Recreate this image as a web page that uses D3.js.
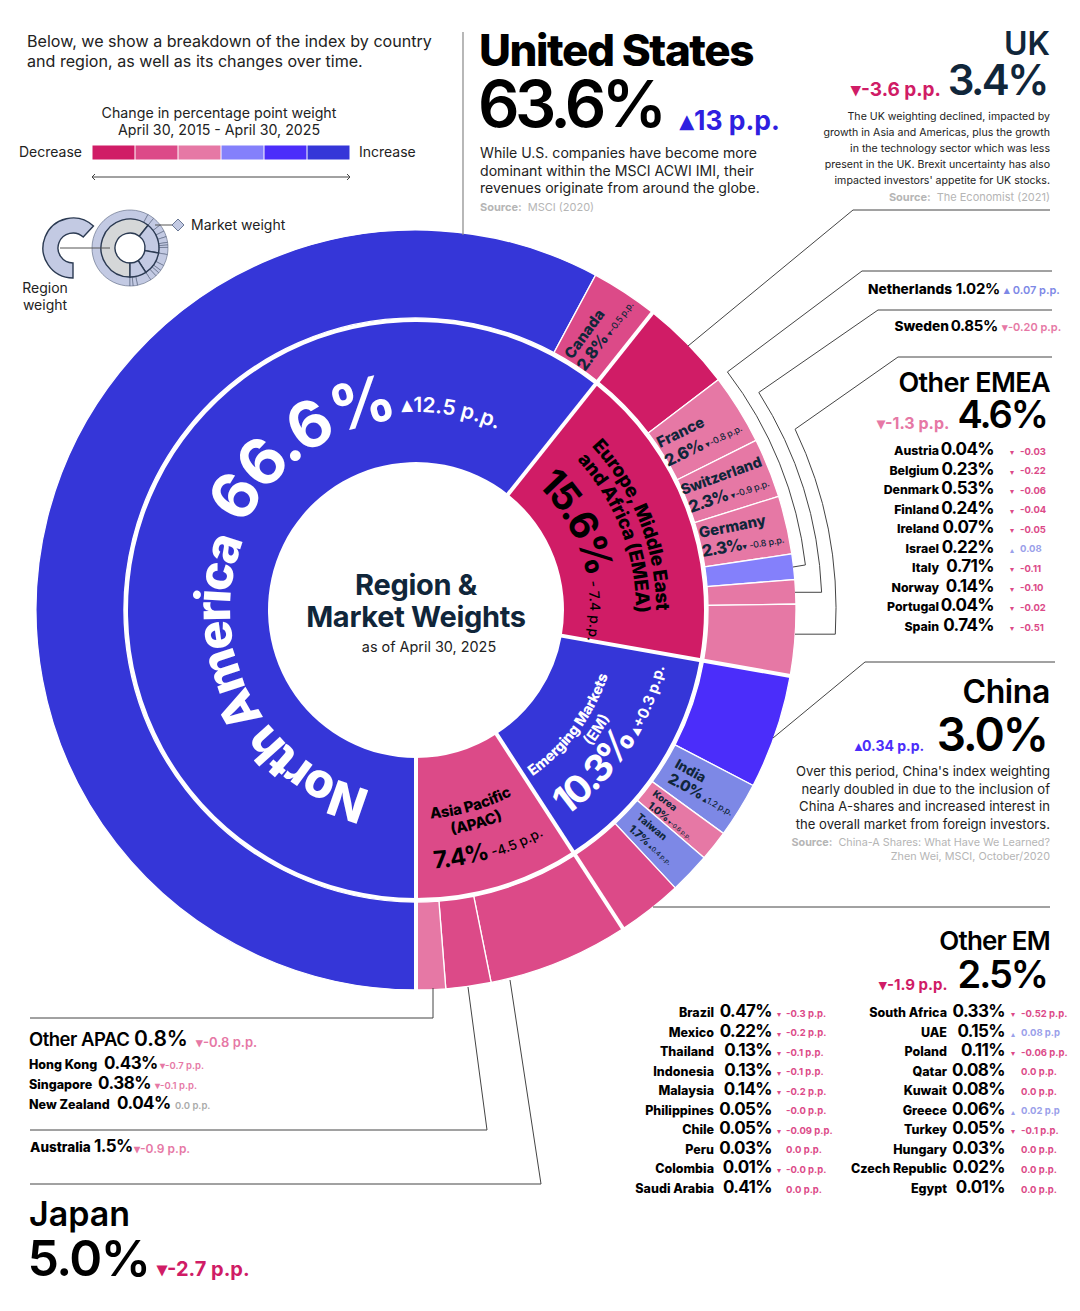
<!DOCTYPE html>
<html>
<head>
<meta charset="utf-8">
<title>Region and Market Weights</title>
<script src="https://d3js.org/d3.v7.min.js"></script>
<style>
  body { margin: 0; background: #fff; }
  text { font-family: 'Inter', 'Noto Sans', sans-serif; fill: #000; }
</style>
</head>
<body>
<svg id="chart" width="1080" height="1311"></svg>
<script>
// Ring sweeps are in degrees as drawn in the picture, they are not the printed weights
const regionNames = ["North America", "EMEA", "Emerging Markets", "Asia Pacific"];
const regionSweep = [218.5, 61.5, 47, 33];

const marketNames = ["United States", "Canada", "UK", "France", "Switzerland", "Germany", "Netherlands", "Sweden", "Other EMEA",
  "China", "India", "Korea", "Taiwan", "Other EM", "Japan", "Australia", "Other APAC"];
const marketSweep = [208.2, 10.3, 14.2, 10.8, 9.1, 8.9, 3.9, 3.7, 10.9, 17.5, 8.5, 4.7, 6.3, 10, 21.6, 6.9, 4.5];

const emeaNames = ["Austria", "Belgium", "Denmark", "Finland", "Ireland", "Israel", "Italy", "Norway", "Portugal", "Spain"];
const emeaWeights = ["0.04%", "0.23%", "0.53%", "0.24%", "0.07%", "0.22%", "0.71%", "0.14%", "0.04%", "0.74%"];
const emeaChanges = ["▾-0.03", "▾-0.22", "▾-0.06", "▾-0.04", "▾-0.05", "▴0.08", "▾-0.11", "▾-0.10", "▾-0.02", "▾-0.51"];

const emLeftNames = ["Brazil", "Mexico", "Thailand", "Indonesia", "Malaysia", "Philippines", "Chile", "Peru", "Colombia", "Saudi Arabia"];
const emLeftWeights = ["0.47%", "0.22%", "0.13%", "0.13%", "0.14%", "0.05%", "0.05%", "0.03%", "0.01%", "0.41%"];
const emLeftChanges = ["▾-0.3 p.p.", "▾-0.2 p.p.", "▾-0.1 p.p.", "▾-0.1 p.p.", "▾-0.2 p.p.", "-0.0 p.p.", "▾-0.09 p.p.", "0.0 p.p.", "▾-0.0 p.p.", "0.0 p.p."];

const emRightNames = ["South Africa", "UAE", "Poland", "Qatar", "Kuwait", "Greece", "Turkey", "Hungary", "Czech Republic", "Egypt"];
const emRightWeights = ["0.33%", "0.15%", "0.11%", "0.08%", "0.08%", "0.06%", "0.05%", "0.03%", "0.02%", "0.01%"];
const emRightChanges = ["▾-0.52 p.p.", "▴0.08 p.p", "▾-0.06 p.p.", "0.0 p.p.", "0.0 p.p.", "▴0.02 p.p", "▾-0.1 p.p.", "0.0 p.p.", "0.0 p.p.", "0.0 p.p."];

const apacNames = ["Hong Kong", "Singapore", "New Zealand"];
const apacWeights = ["0.43%", "0.38%", "0.04%"];
const apacChanges = ["▾-0.7 p.p.", "▾-0.1 p.p.", "0.0 p.p."];

const legendSteps = ["-3", "-2", "-1", "1", "2", "3"];

const DARK = "#d01c66", MID = "#dc4a88", LIGHT = "#e678a5", PERI = "#8480fb", VIVID = "#4b2dfa", BLUE = "#3536d8", PERI2 = "#7d88e6";
const NAVY = "#10263a", INK = "#222";

let cx = 416, cy = 610;
let svg = d3.select("#chart");
let defs = svg.append("defs");

let legendColor = d3.scaleOrdinal().domain(legendSteps).range([DARK, MID, LIGHT, PERI, VIVID, BLUE]);
let regionColor = d3.scaleOrdinal().domain(regionNames).range([BLUE, DARK, BLUE, MID]);
let marketColor = d3.scaleOrdinal().domain(marketNames)
    .range([BLUE, MID, DARK, LIGHT, LIGHT, LIGHT, PERI, LIGHT, LIGHT, VIVID, PERI2, LIGHT, PERI2, MID, MID, MID, LIGHT]);

let pie = d3.pie().sort(null).startAngle(Math.PI).endAngle(3 * Math.PI);
let ring = svg.append("g").attr("transform", `translate(${cx},${cy})`);

// Rings
let regionSlices = pie(regionSweep);
let marketSlices = pie(marketSweep);
let regionArc = d3.arc().innerRadius(148).outerRadius(288);
ring.selectAll("path.region").data(regionSlices).enter().append("path")
    .attr("class", "region")
    .attr("d", regionArc)
    .attr("fill", (d, i) => regionColor(regionNames[i]));

let marketArc = d3.arc().innerRadius(292).outerRadius(380);
ring.selectAll("path.market").data(marketSlices).enter().append("path")
    .attr("class", "market")
    .attr("d", marketArc)
    .attr("fill", (d, i) => marketColor(marketNames[i]))
    .attr("stroke", "#fff")
    .attr("stroke-width", 1.3);

// Thick white gaps between regions
ring.selectAll("line.gap").data(regionSlices).enter().append("line")
    .attr("x1", d => 146 * Math.sin(d.startAngle))
    .attr("y1", d => -146 * Math.cos(d.startAngle))
    .attr("x2", d => 383 * Math.sin(d.startAngle))
    .attr("y2", d => -383 * Math.cos(d.startAngle))
    .attr("stroke", "#fff")
    .attr("stroke-width", 4);

function pt(r, deg) {
    let a = deg * Math.PI / 180;
    return [cx + r * Math.sin(a), cy - r * Math.cos(a)];
}

function label(x, y, str, size, opts) {
    opts = opts || {};
    return svg.append("text")
        .attr("x", x).attr("y", y)
        .attr("font-size", size)
        .attr("font-weight", opts.weight || 400)
        .attr("text-anchor", opts.anchor || "start")
        .attr("letter-spacing", opts.spacing || null)
        .style("fill", opts.color || "#000")
        .text(str);
}

// Text following a circle around the centre. Degrees from north, from -> to
let pathId = 0;
function curved(r, from, to, parts, anchor) {
    let id = "arc" + (pathId++);
    let p0 = pt(r, from), p1 = pt(r, to);
    let sweep = to > from ? 1 : 0;
    let large = Math.abs(to - from) > 180 ? 1 : 0;
    defs.append("path").attr("id", id)
        .attr("d", `M${p0[0]},${p0[1]}A${r},${r} 0 ${large} ${sweep} ${p1[0]},${p1[1]}`);
    let t = svg.append("text");
    let tp = t.append("textPath").attr("href", "#" + id);
    if (anchor === "middle") tp.attr("startOffset", "50%").attr("text-anchor", "middle");
    parts.forEach(d => {
        tp.append("tspan")
          .attr("font-size", d.size)
          .attr("font-weight", d.weight || 700)
          .attr("letter-spacing", d.spacing || null)
          .attr("dx", d.dx || null)
          .style("fill", d.color)
          .text(d.text);
    });
}

// Straight rotated label inside an outer segment
function slanted(x, y, rot, parts) {
    let t = svg.append("text").attr("transform", `translate(${x},${y}) rotate(${rot})`);
    parts.forEach(d => {
        t.append("tspan")
         .attr("font-size", d.size)
         .attr("font-weight", d.weight || 800)
         .attr("letter-spacing", d.spacing || null)
         .attr("dx", d.dx || null)
         .style("fill", d.color || NAVY)
         .text(d.text);
    });
}

// Region labels
curved(186, 194, 300, [{ text: "North America", size: 48.5, weight: 800, color: "#fff", spacing: -2.8 }]);
curved(191, 296, 358, [{ text: "66.6%", size: 64, weight: 700, color: "#fff", spacing: -2.6 }]);
curved(198, 356, 392, [{ text: "▴12.5 p.p.", size: 21, weight: 600, color: "#fff" }]);
curved(240, 47, 100, [{ text: "Europe, Middle East", size: 19, weight: 800, color: "#000", spacing: -0.3 }]);
curved(220, 47, 100, [{ text: "and Africa (EMEA)", size: 19, weight: 800, color: "#000", spacing: -0.3 }]);
curved(174, 44, 105, [
    { text: "15.6%", size: 39, weight: 700, color: "#000", spacing: -2.5 },
    { text: " - 7.4 p.p.", size: 14, weight: 500, color: "#000", dx: 2 }
]);
curved(203, 145, 95, [{ text: "Emerging Markets", size: 14.5, weight: 800, color: "#fff", spacing: -0.2 }]);
curved(222, 135, 112, [{ text: "(EM)", size: 15, weight: 700, color: "#fff" }], "middle");
curved(255, 144, 90, [
    { text: "10.3%", size: 38, weight: 700, color: "#fff", spacing: -2.2 },
    { text: " ▴+0.3 p.p.", size: 15, weight: 700, color: "#fff" }
]);
curved(209, 176, 145, [{ text: "Asia Pacific", size: 15, weight: 800, color: "#000", spacing: -0.2 }]);
curved(227, 171, 150, [{ text: "(APAC)", size: 15, weight: 800, color: "#000" }]);
curved(259, 176, 140, [
    { text: "7.4%", size: 24, weight: 700, color: "#000", spacing: -0.8 },
    { text: " -4.5 p.p.", size: 13.5, weight: 500, color: "#000" }
]);

// Market labels in the outer ring
slanted(572, 360, -54, [{ text: "Canada", size: 15 }]);
slanted(585, 372, -54, [{ text: "2.8% ", size: 16.5, spacing: -0.8 }, { text: "▾-0.5 p.p.", size: 9, weight: 500, spacing: -0.2 }]);
slanted(660, 448, -26, [{ text: "France", size: 15 }]);
slanted(668, 467, -26, [{ text: "2.6% ", size: 16.5, spacing: -0.8 }, { text: "▾-0.8 p.p.", size: 9, weight: 500, spacing: -0.2 }]);
slanted(683, 495, -20, [{ text: "Switzerland", size: 14.5, spacing: -0.1 }]);
slanted(691, 513, -19, [{ text: "2.3% ", size: 16.5, spacing: -0.8 }, { text: "▾-0.9 p.p.", size: 9, weight: 500, spacing: -0.2 }]);
slanted(700, 538, -11, [{ text: "Germany", size: 15 }]);
slanted(703, 557, -10, [{ text: "2.3%", size: 16.5, spacing: -0.8 }, { text: "▾ -0.8 p.p.", size: 9, weight: 500, spacing: -0.2 }]);
slanted(674, 767, 29, [{ text: "India", size: 13.5 }]);
slanted(667, 782, 28, [{ text: "2.0% ", size: 15, spacing: -0.8 }, { text: "▴1.2 p.p.", size: 8.5, weight: 500, spacing: -0.2 }]);
slanted(652, 795, 37, [{ text: "Korea", size: 9.5 }]);
slanted(647, 807, 38, [{ text: "1.0% ", size: 10.5, spacing: -0.5 }, { text: "▾-0.6 p.p.", size: 6, weight: 500 }]);
slanted(636, 818, 40, [{ text: "Taiwan", size: 10 }]);
slanted(628, 830, 41, [{ text: "1.7% ", size: 11, spacing: -0.5 }, { text: "▴0.4 p.p.", size: 6.5, weight: 500 }]);

// Centre
label(cx, 595, "Region &", 29, { anchor: "middle", weight: 700, color: NAVY, spacing: -0.3 });
label(cx, 627, "Market Weights", 29, { anchor: "middle", weight: 700, color: NAVY, spacing: -0.3 });
label(cx + 13, 652, "as of April 30, 2025", 14.4, { anchor: "middle", color: INK });

// Top left note and legend
label(27, 47, "Below, we show a breakdown of the index by country", 16.1, { color: INK });
label(27, 67, "and region, as well as its changes over time.", 16.1, { color: INK });
label(219, 118, "Change in percentage point weight", 14.2, { anchor: "middle", color: INK });
label(219, 135, "April 30, 2015 - April 30, 2025", 14.2, { anchor: "middle", color: INK });
label(19, 157, "Decrease", 14, { color: INK });
label(359, 157, "Increase", 14, { color: INK });

let legendX = d3.scaleBand().domain(legendSteps).range([92, 350]);
svg.selectAll("rect.legend").data(legendSteps).enter().append("rect")
    .attr("class", "legend")
    .attr("x", d => legendX(d) + 0.5)
    .attr("y", 145.5)
    .attr("width", legendX.bandwidth() - 1)
    .attr("height", 14)
    .attr("fill", d => legendColor(d));
svg.append("path").attr("d", "M92,177H350M95,174L92,177L95,180M347,174L350,177L347,180")
    .attr("fill", "none").attr("stroke", "#444").attr("stroke-width", 1);

// Small key icon, a mini copy of the rings
let ICON_FILL = "#c3cae3", ICON_LINE = "#2b3a52";
let iconArc = d3.arc();
let key = svg.append("g").attr("transform", "translate(130,248)");
key.selectAll("path.o").data(marketSlices).enter().append("path")
    .attr("d", d => iconArc.innerRadius(29).outerRadius(38)(d))
    .attr("fill", ICON_FILL).attr("stroke", "#55627c").attr("stroke-width", 0.6);
key.selectAll("path.i").data(regionSlices).enter().append("path")
    .attr("d", d => iconArc.innerRadius(15).outerRadius(29)(d))
    .attr("fill", (d, i) => i === 0 ? "#d5d7d8" : ICON_FILL)
    .attr("stroke", ICON_LINE).attr("stroke-width", 1.4);
svg.append("path").attr("transform", "translate(73,248)")
    .attr("d", d3.arc()({ innerRadius: 15, outerRadius: 30, startAngle: Math.PI, endAngle: 2 * Math.PI + 0.75 }))
    .attr("fill", ICON_FILL).attr("stroke", ICON_LINE).attr("stroke-width", 1.4);
svg.append("path").attr("d", "M60,248H110M155,225H172").attr("stroke", "#555").attr("fill", "none");
svg.append("path").attr("d", "M178,219L184,225L178,231L172,225Z").attr("fill", ICON_FILL).attr("stroke", "#6a7894");
label(191, 230, "Market weight", 14, { color: INK });
label(45, 293, "Region", 14, { anchor: "middle", color: INK });
label(45, 310, "weight", 14, { anchor: "middle", color: INK });

// Leader lines, concentric parts share the ring centre
function leader(d) {
    svg.append("path").attr("d", d).attr("fill", "none").attr("stroke", "#444").attr("stroke-width", 1);
}
function hooked(r, fromDeg, toDeg, before, after) {
    let a = pt(r, fromDeg), b = pt(r, toDeg);
    leader(`${before}L${a[0]},${a[1]}A${r},${r} 0 0 1 ${b[0]},${b[1]}${after}`);
}
svg.append("path").attr("d", "M463,32V235").attr("stroke", "#888").attr("stroke-width", 1.2);
leader("M688,346L853,210H1050");
hooked(392, 52.6, 83.4, "M1052,271H862", "L793,567");
hooked(406, 57.6, 87.5, "M1052,310H878", "H795");
hooked(420, 64.5, 93.3, "M1052,357H898", "H795");
leader("M773,738L865,662H1055");
leader("M653,907H1050");
leader("M433,988V1018H30");
leader("M468,987L487,1130H30");
leader("M510,980L541,1184H30");

function source(y, text) {
    let s = label(y.x, y.y, "", y.size, { anchor: y.anchor, color: "#b5b5b5" });
    s.append("tspan").attr("font-weight", 700).text("Source:");
    s.append("tspan").attr("dx", 6).text(text);
}

// United States
label(479, 66, "United States", 44, { weight: 800, spacing: -1.45 });
label(478, 127, "63.6%", 65, { weight: 600, spacing: -4.6 });
label(680, 130, "▴13 p.p.", 26.5, { weight: 700, color: "#2f1fe0" });
label(480, 158, "While U.S. companies have become more", 14.1, { color: INK });
label(480, 176, "dominant within the MSCI ACWI IMI, their", 14.1, { color: INK });
label(480, 193, "revenues originate from around the globe.", 14.1, { color: INK });
source({ x: 480, y: 211, size: 11, anchor: "start" }, "MSCI (2020)");

// UK
label(1050, 55, "UK", 32, { anchor: "end", weight: 600, color: NAVY });
label(1047, 95, "3.4%", 42, { anchor: "end", weight: 600, color: NAVY, spacing: -2.5 });
label(851, 96, "▾-3.6 p.p.", 19, { weight: 700, color: DARK });
["The UK weighting declined, impacted by", "growth in Asia and Americas, plus the growth",
 "in the technology sector which was less", "present in the UK. Brexit uncertainty has also",
 "impacted investors' appetite for UK stocks."].forEach((d, i) => {
    label(1050, 120 + i * 16, d, 10.6, { anchor: "end", color: INK });
});
source({ x: 1050, y: 201, size: 11, anchor: "end" }, "The Economist (2021)");

// Netherlands and Sweden
label(952, 294, "Netherlands", 13.7, { anchor: "end", weight: 800 });
label(1000, 294, "1.02%", 15, { anchor: "end", weight: 700, spacing: -0.3 });
label(1004, 294, "▴ 0.07 p.p.", 11, { weight: 600, color: PERI2 });
label(949, 331, "Sweden", 13.7, { anchor: "end", weight: 800 });
label(998, 331, "0.85%", 15, { anchor: "end", weight: 700, spacing: -0.3 });
label(1002, 331, "▾-0.20 p.p.", 11, { weight: 600, color: LIGHT });

// Other EMEA
label(1050, 392, "Other EMEA", 27, { anchor: "end", weight: 600, spacing: -0.6 });
label(1047, 428, "4.6%", 38, { anchor: "end", weight: 600, spacing: -2 });
label(877, 429, "▾-1.3 p.p.", 16, { weight: 700, color: LIGHT });

// Country rows: name | weight | arrow | change
function table(names, weights, changes, o) {
    let y = d3.scalePoint().domain(names).range(o.rows);
    let g = svg.append("g");
    names.forEach((n, i) => {
        let yy = y(n);
        g.append("text").attr("x", o.nameX).attr("y", yy).attr("text-anchor", "end")
         .attr("font-size", o.nameSize).attr("font-weight", 800).text(n);
        g.append("text").attr("x", o.pctX).attr("y", yy).attr("text-anchor", "end")
         .attr("font-size", o.pctSize).attr("font-weight", 700).attr("letter-spacing", -0.6).text(weights[i]);
        let c = changes[i], mark = "";
        if (c[0] === "▾" || c[0] === "▴") { mark = c[0]; c = c.slice(1); }
        let color = mark === "▴" ? "#9aa0ea" : o.color;
        if (mark) g.append("text").attr("x", o.markX).attr("y", yy).attr("font-size", 8).style("fill", color).text(mark);
        g.append("text").attr("x", o.deltaX).attr("y", yy - 0.5)
         .attr("font-size", o.deltaSize).attr("font-weight", 700).style("fill", color).text(c);
    });
}
table(emeaNames, emeaWeights, emeaChanges, { rows: [455, 631], nameX: 939, pctX: 994, markX: 1010, deltaX: 1020, nameSize: 12.3, pctSize: 17, deltaSize: 9.5, color: MID });

// China
label(1050, 703, "China", 32, { anchor: "end", weight: 600, spacing: -0.4 });
label(1047, 751, "3.0%", 46, { anchor: "end", weight: 600, spacing: -2 });
label(855, 751, "▴0.34 p.p.", 14, { weight: 700, color: VIVID });
["Over this period, China's index weighting", "nearly doubled in due to the inclusion of",
 "China A-shares and increased interest in", "the overall market from foreign investors."].forEach((d, i) => {
    label(1050, 776 + i * 17.7, d, 13.1, { anchor: "end", color: INK });
});
source({ x: 1050, y: 846, size: 10.8, anchor: "end" }, "China-A Shares: What Have We Learned?");
label(1050, 860, "Zhen Wei, MSCI, October/2020", 10.8, { anchor: "end", color: "#b5b5b5" });

// Other EM
label(1050, 950, "Other EM", 26, { anchor: "end", weight: 600, spacing: -0.8 });
label(1047, 988, "2.5%", 38, { anchor: "end", weight: 600, spacing: -2 });
label(879, 990, "▾-1.9 p.p.", 15, { weight: 700, color: DARK });
table(emLeftNames, emLeftWeights, emLeftChanges, { rows: [1017, 1193], nameX: 714, pctX: 772, markX: 777, deltaX: 786, nameSize: 12.5, pctSize: 17, deltaSize: 9.5, color: MID });
table(emRightNames, emRightWeights, emRightChanges, { rows: [1017, 1193], nameX: 947, pctX: 1005, markX: 1011, deltaX: 1021, nameSize: 12.5, pctSize: 17, deltaSize: 9.5, color: MID });

// Other APAC
label(29, 1046, "Other APAC", 18.5, { weight: 600, spacing: -0.5 });
label(134, 1046, "0.8%", 21, { weight: 600 });
label(196, 1047, "▾-0.8 p.p.", 13, { weight: 600, color: LIGHT });
let apacY = d3.scalePoint().domain(apacNames).range([1069, 1109]);
let apacPctX = d3.scaleOrdinal().domain(apacNames).range([104, 98, 117]);
let apacDeltaX = d3.scaleOrdinal().domain(apacNames).range([160, 155, 175]);
apacNames.forEach((n, i) => {
    label(29, apacY(n), n, 12.5, { weight: 800 });
    label(apacPctX(n), apacY(n), apacWeights[i], 17, { weight: 700, spacing: -0.5 });
    label(apacDeltaX(n), apacY(n), apacChanges[i], 9.5, { weight: 600, color: i === 2 ? "#aaa" : LIGHT });
});

// Australia and Japan
label(30, 1152, "Australia", 13.5, { weight: 800 });
label(94, 1152, "1.5%", 17, { weight: 700, spacing: -0.6 });
label(134, 1153, "▾-0.9 p.p.", 12, { weight: 600, color: LIGHT });
label(29, 1226, "Japan", 34, { weight: 600 });
label(27.5, 1276, "5.0%", 50, { weight: 600, spacing: -1.5 });
label(157, 1276, "▾-2.7 p.p.", 20, { weight: 700, color: DARK });
</script>
</body>
</html>
